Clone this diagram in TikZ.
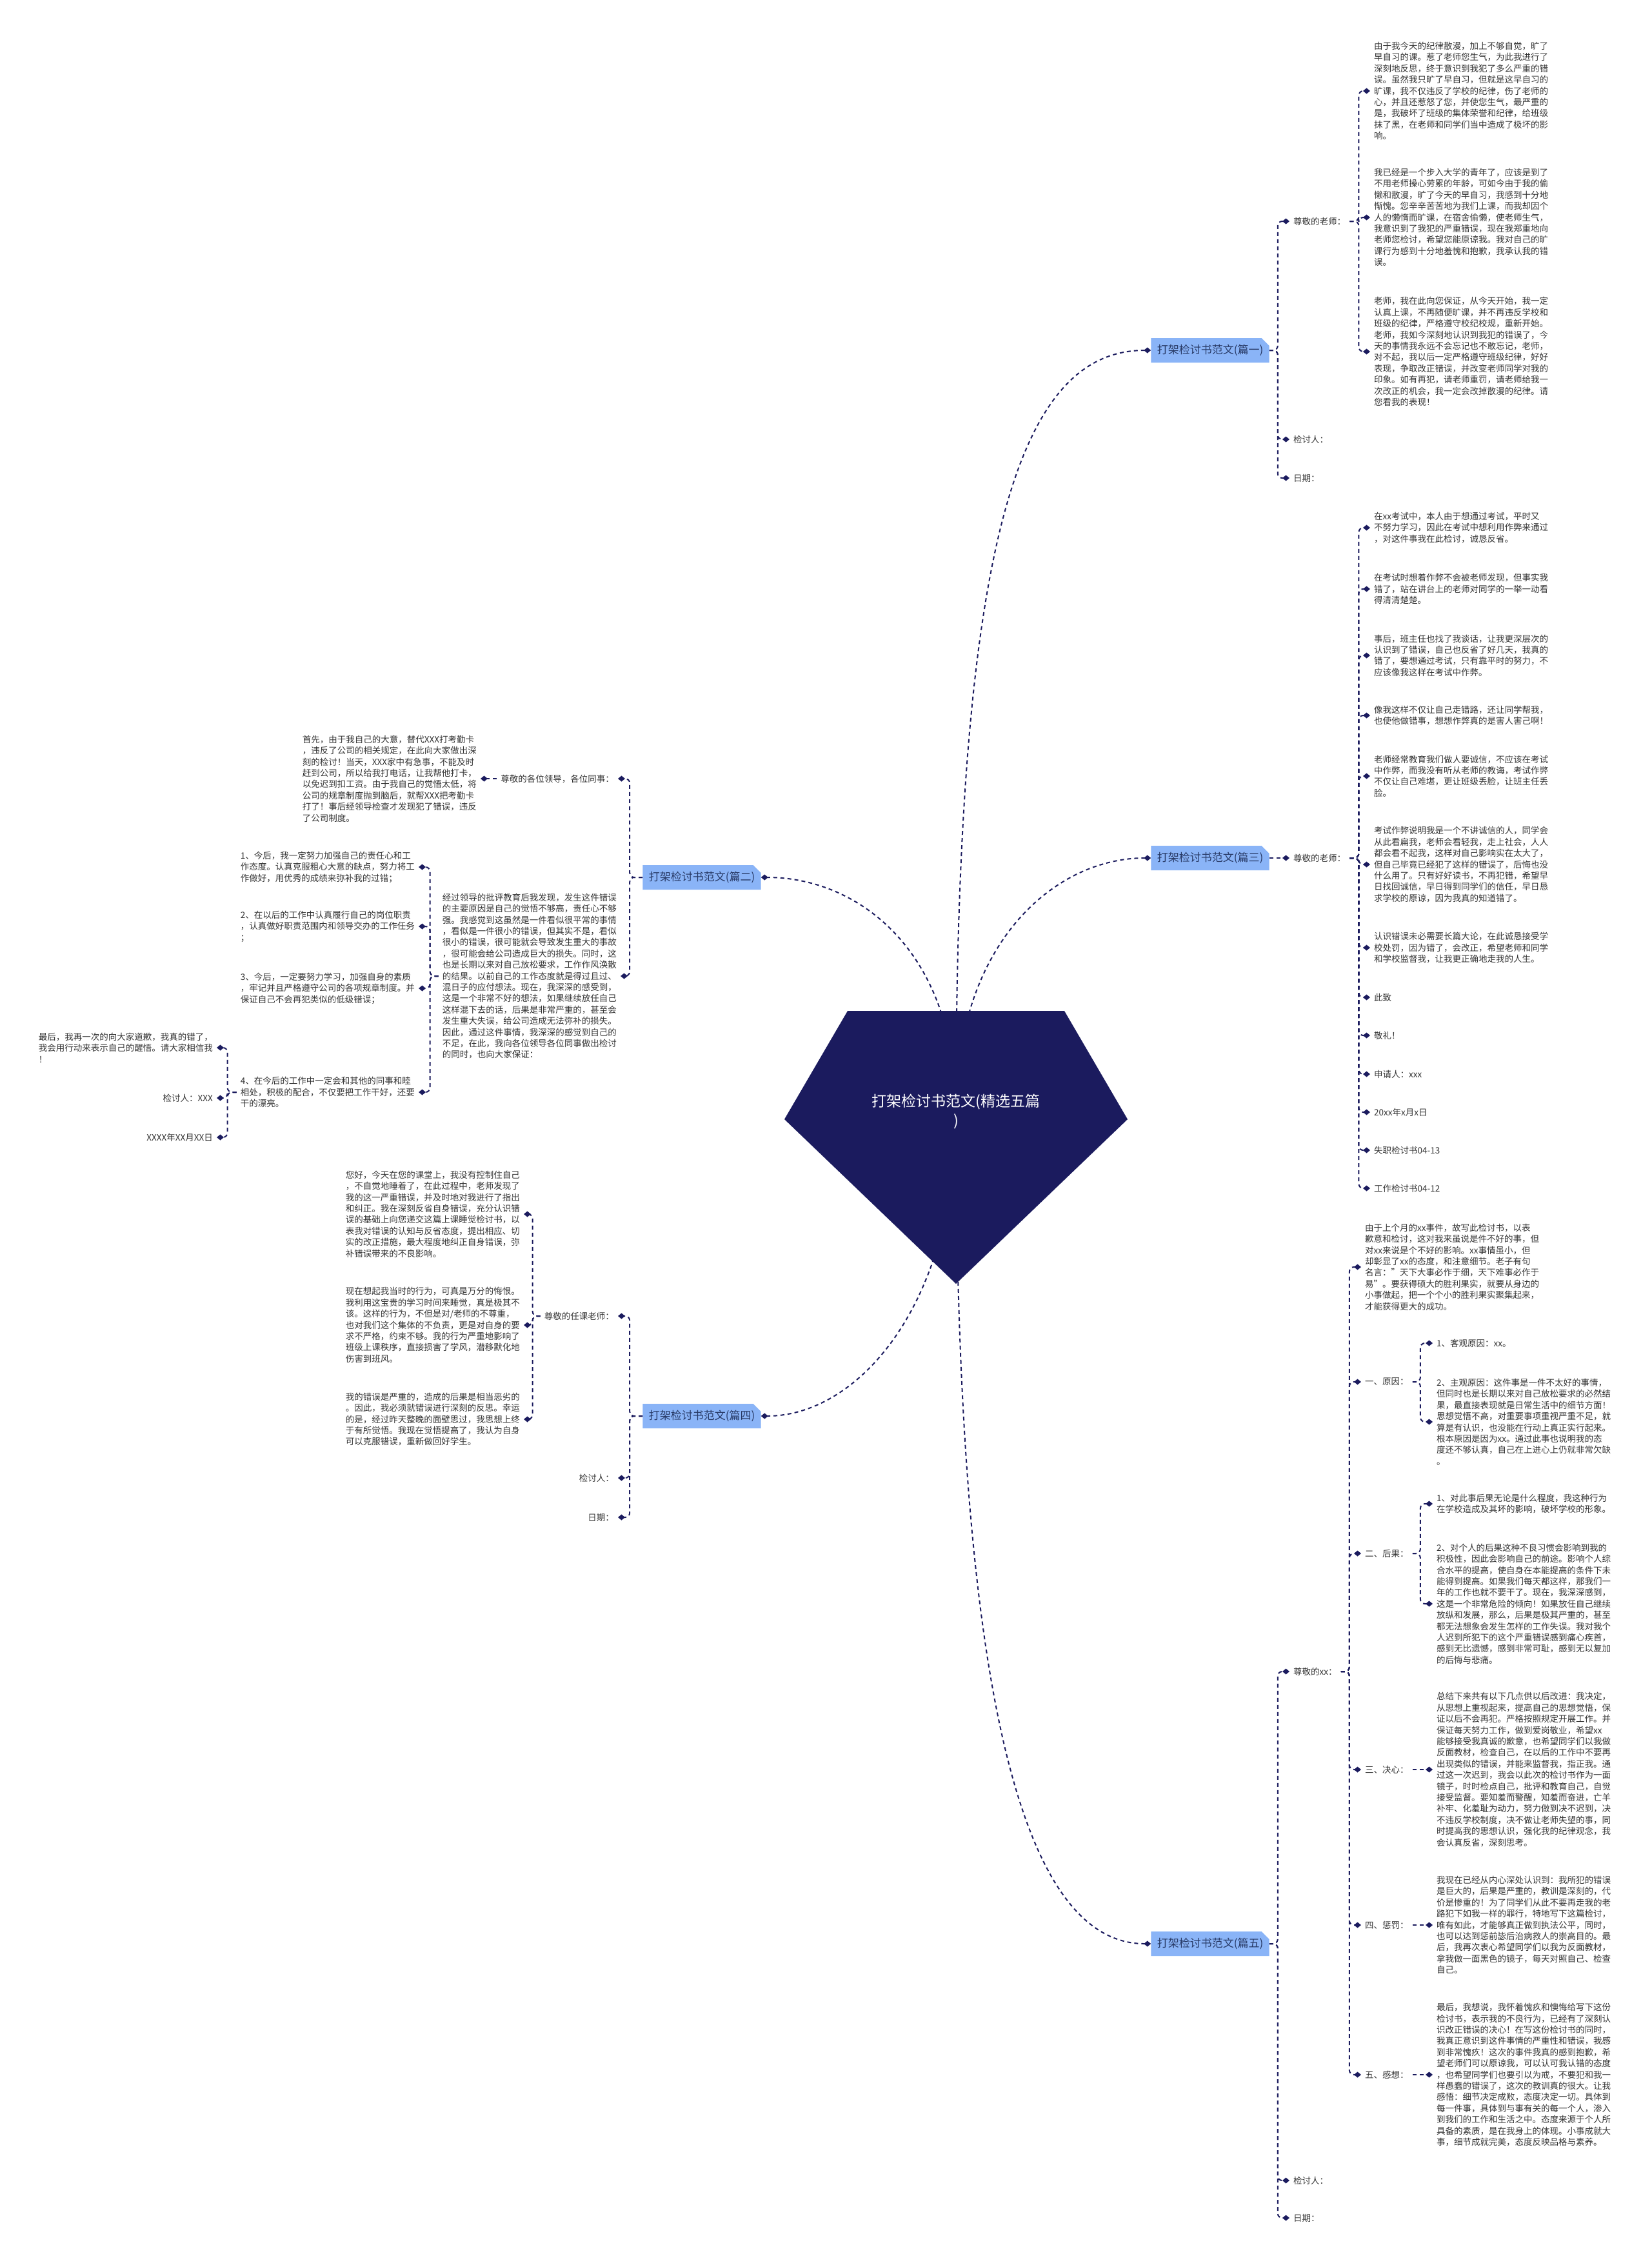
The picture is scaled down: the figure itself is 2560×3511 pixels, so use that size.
\documentclass[tikz,border=0pt]{standalone}
\usepackage{fontspec}
\setmainfont{Noto Sans CJK SC}
\usetikzlibrary{arrows.meta,positioning,shapes.misc,backgrounds}

\definecolor{navy}{HTML}{1B1B5E}
\definecolor{boxblue}{HTML}{8AB4F7}
\definecolor{boxtext}{HTML}{283A66}
\definecolor{ink}{HTML}{333333}

\begin{document}
\begin{tikzpicture}[
    x=1pt, y=-1pt,
    every node/.style={font=\fontsize{13.5}{17.4}\selectfont, text=ink},
    para/.style={align=left, inner xsep=6pt, inner ysep=2pt},
    leaf/.style={inner xsep=6pt, inner ysep=2pt},
    branch/.style={chamfered rectangle, chamfered rectangle corners=north east,
        chamfered rectangle xsep=6pt, chamfered rectangle ysep=6pt,
        fill=boxblue, minimum width=182pt, minimum height=38pt,
        font=\fontsize{17}{20}\selectfont, text=boxtext},
    rootlabel/.style={align=center, text=white, font=\fontsize{23}{30}\selectfont},
    link/.style={draw=navy, line width=2pt, dash pattern=on 6pt off 5pt,
        rounded corners=7pt, -{Diamond[length=11pt,width=9pt]}}
]
\useasboundingbox (0,0) rectangle (2560,3511);

% Root
\fill[navy] (1314,1567) -- (1650,1567) -- (1748,1735) -- (1482,1990) -- (1216,1735) -- cycle;
\node[rootlabel] (root) at (1482,1723) {打架检讨书范文(精选五篇\\)};

% Branches
\node[branch] (b1) at (1876,543) {打架检讨书范文(篇一)};
\node[branch] (b2) at (1088,1360) {打架检讨书范文(篇二)};
\node[branch] (b3) at (1876,1330) {打架检讨书范文(篇三)};
\node[branch] (b4) at (1088,2195) {打架检讨书范文(篇四)};
\node[branch] (b5) at (1876,3013) {打架检讨书范文(篇五)};

% Part one
\node[leaf, anchor=west] (r1) at (1999,343) {尊敬的老师：};
\node[leaf, anchor=west] (s1) at (1999,681) {检讨人：};
\node[leaf, anchor=west] (d1) at (1999,741) {日期：};
\node[para, anchor=west] (r1a) at (2124,141) {由于我今天的纪律散漫，加上不够自觉，旷了\\
早自习的课。惹了老师您生气，为此我进行了\\
深刻地反思，终于意识到我犯了多么严重的错\\
误。虽然我只旷了早自习，但就是这早自习的\\
旷课，我不仅违反了学校的纪律，伤了老师的\\
心，并且还惹怒了您，并使您生气，最严重的\\
是，我破坏了班级的集体荣誉和纪律，给班级\\
抹了黑，在老师和同学们当中造成了极坏的影\\
响。};
\node[para, anchor=west] (r1b) at (2124,337) {我已经是一个步入大学的青年了，应该是到了\\
不用老师操心劳累的年龄，可如今由于我的偷\\
懒和散漫，旷了今天的早自习，我感到十分地\\
惭愧。您辛辛苦苦地为我们上课，而我却因个\\
人的懒惰而旷课，在宿舍偷懒，使老师生气，\\
我意识到了我犯的严重错误，现在我郑重地向\\
老师您检讨，希望您能原谅我。我对自己的旷\\
课行为感到十分地羞愧和抱歉，我承认我的错\\
误。};
\node[para, anchor=west] (r1c) at (2124,545) {老师，我在此向您保证，从今天开始，我一定\\
认真上课，不再随便旷课，并不再违反学校和\\
班级的纪律，严格遵守校纪校规，重新开始。\\
老师，我如今深刻地认识到我犯的错误了，今\\
天的事情我永远不会忘记也不敢忘记，老师，\\
对不起，我以后一定严格遵守班级纪律，好好\\
表现，争取改正错误，并改变老师同学对我的\\
印象。如有再犯，请老师重罚，请老师给我一\\
次改正的机会，我一定会改掉散漫的纪律。请\\
您看我的表现！};

% Part three
\node[leaf, anchor=west] (r3) at (1999,1330) {尊敬的老师：};
\node[para, anchor=west] (p3a) at (2124,818) {在xx考试中，本人由于想通过考试，平时又\\
不努力学习，因此在考试中想利用作弊来通过\\
，对这件事我在此检讨，诚恳反省。};
\node[para, anchor=west] (p3b) at (2124,913) {在考试时想着作弊不会被老师发现，但事实我\\
错了，站在讲台上的老师对同学的一举一动看\\
得清清楚楚。};
\node[para, anchor=west] (p3c) at (2124,1016) {事后，班主任也找了我谈话，让我更深层次的\\
认识到了错误，自己也反省了好几天，我真的\\
错了，要想通过考试，只有靠平时的努力，不\\
应该像我这样在考试中作弊。};
\node[para, anchor=west] (p3d) at (2124,1109) {像我这样不仅让自己走错路，还让同学帮我，\\
也使他做错事，想想作弊真的是害人害己啊！};
\node[para, anchor=west] (p3e) at (2124,1203) {老师经常教育我们做人要诚信，不应该在考试\\
中作弊，而我没有听从老师的教诲，考试作弊\\
不仅让自己难堪，更让班级丢脸，让班主任丢\\
脸。};
\node[para, anchor=west] (p3f) at (2124,1340) {考试作弊说明我是一个不讲诚信的人，同学会\\
从此看扁我，老师会看轻我，走上社会，人人\\
都会看不起我，这样对自己影响实在太大了，\\
但自己毕竟已经犯了这样的错误了，后悔也没\\
什么用了。只有好好读书，不再犯错，希望早\\
日找回诚信，早日得到同学们的信任，早日恳\\
求学校的原谅，因为我真的知道错了。};
\node[para, anchor=west] (p3g) at (2124,1469) {认识错误未必需要长篇大论，在此诚恳接受学\\
校处罚，因为错了，会改正，希望老师和同学\\
和学校监督我，让我更正确地走我的人生。};
\node[leaf, anchor=west] (p3h) at (2124,1546) {此致};
\node[leaf, anchor=west] (p3i) at (2124,1605) {敬礼！};
\node[leaf, anchor=west] (p3j) at (2124,1665) {申请人：xxx};
\node[leaf, anchor=west] (p3k) at (2124,1724) {20xx年x月x日};
\node[leaf, anchor=west] (p3l) at (2124,1783) {失职检讨书04-13};
\node[leaf, anchor=west] (p3m) at (2124,1842) {工作检讨书04-12};

% Part five
\node[leaf, anchor=west] (r5) at (1999,2591) {尊敬的xx：};
\node[leaf, anchor=west] (s5) at (1999,3380) {检讨人：};
\node[leaf, anchor=west] (d5) at (1999,3438) {日期：};
\node[para, anchor=west] (r5a) at (2110,1964) {由于上个月的xx事件，故写此检讨书，以表\\
歉意和检讨，这对我来虽说是件不好的事，但\\
对xx来说是个不好的影响。xx事情虽小，但\\
却彰显了xx的态度，和注意细节。老子有句\\
名言："天下大事必作于细，天下难事必作于\\
易"。要获得硕大的胜利果实，就要从身边的\\
小事做起，把一个个小的胜利果实聚集起来，\\
才能获得更大的成功。};
\node[leaf, anchor=west] (k1) at (2110,2142) {一、原因：};
\node[leaf, anchor=west] (k2) at (2110,2408) {二、后果：};
\node[leaf, anchor=west] (k3) at (2110,2743) {三、决心：};
\node[leaf, anchor=west] (k4) at (2110,2984) {四、惩罚：};
\node[leaf, anchor=west] (k5) at (2110,3216) {五、感想：};
\node[leaf, anchor=west] (k1a) at (2221,2082) {1、客观原因：xx。};
\node[para, anchor=west] (k1b) at (2221,2204) {2、主观原因：这件事是一件不太好的事情，\\
但同时也是长期以来对自己放松要求的必然结\\
果，最直接表现就是日常生活中的细节方面！\\
思想觉悟不高，对重要事项重视严重不足，就\\
算是有认识，也没能在行动上真正实行起来。\\
根本原因是因为xx。通过此事也说明我的态\\
度还不够认真，自己在上进心上仍就非常欠缺\\
。};
\node[para, anchor=west] (k2a) at (2221,2331) {1、对此事后果无论是什么程度，我这种行为\\
在学校造成及其坏的影响，破坏学校的形象。};
\node[para, anchor=west] (k2b) at (2221,2486) {2、对个人的后果这种不良习惯会影响到我的\\
积极性，因此会影响自己的前途。影响个人综\\
合水平的提高，使自身在本能提高的条件下未\\
能得到提高。如果我们每天都这样，那我们一\\
年的工作也就不要干了。现在，我深深感到，\\
这是一个非常危险的倾向！如果放任自己继续\\
放纵和发展，那么，后果是极其严重的，甚至\\
都无法想象会发生怎样的工作失误。我对我个\\
人迟到所犯下的这个严重错误感到痛心疾首，\\
感到无比遗憾，感到非常可耻，感到无以复加\\
的后悔与悲痛。};
\node[para, anchor=west] (k3a) at (2221,2743) {总结下来共有以下几点供以后改进：我决定，\\
从思想上重视起来，提高自己的思想觉悟，保\\
证以后不会再犯。严格按照规定开展工作。并\\
保证每天努力工作，做到爱岗敬业，希望xx\\
能够接受我真诚的歉意，也希望同学们以我做\\
反面教材，检查自己，在以后的工作中不要再\\
出现类似的错误，并能来监督我，指正我。通\\
过这一次迟到，我会以此次的检讨书作为一面\\
镜子，时时检点自己，批评和教育自己，自觉\\
接受监督。要知羞而警醒，知羞而奋进，亡羊\\
补牢、化羞耻为动力，努力做到决不迟到，决\\
不违反学校制度，决不做让老师失望的事，同\\
时提高我的思想认识，强化我的纪律观念，我\\
会认真反省，深刻思考。};
\node[para, anchor=west] (k4a) at (2221,2984) {我现在已经从内心深处认识到：我所犯的错误\\
是巨大的，后果是严重的，教训是深刻的，代\\
价是惨重的！为了同学们从此不要再走我的老\\
路犯下如我一样的罪行，特地写下这篇检讨，\\
唯有如此，才能够真正做到执法公平，同时，\\
也可以达到惩前毖后治病救人的崇高目的。最\\
后，我再次衷心希望同学们以我为反面教材，\\
拿我做一面黑色的镜子，每天对照自己、检查\\
自己。};
\node[para, anchor=west] (k5a) at (2221,3216) {最后，我想说，我怀着愧疚和懊悔给写下这份\\
检讨书，表示我的不良行为，已经有了深刻认\\
识改正错误的决心！在写这份检讨书的同时，\\
我真正意识到这件事情的严重性和错误，我感\\
到非常愧疚！这次的事件我真的感到抱歉，希\\
望老师们可以原谅我，可以认可我认错的态度\\
，也希望同学们也要引以为戒，不要犯和我一\\
样愚蠢的错误了，这次的教训真的很大。让我\\
感悟：细节决定成败，态度决定一切。具体到\\
每一件事，具体到与事有关的每一个人，渗入\\
到我们的工作和生活之中。态度来源于个人所\\
具备的素质，是在我身上的体现。小事成就大\\
事，细节成就完美，态度反映品格与素养。};

% Part two
\node[leaf, anchor=east] (r2) at (958,1207) {尊敬的各位领导，各位同事：};
\node[para, anchor=east] (r2a) at (745,1207) {首先，由于我自己的大意，替代XXX打考勤卡\\
，违反了公司的相关规定，在此向大家做出深\\
刻的检讨！当天，XXX家中有急事，不能及时\\
赶到公司，所以给我打电话，让我帮他打卡，\\
以免迟到扣工资。由于我自己的觉悟太低，将\\
公司的规章制度抛到脑后，就帮XXX把考勤卡\\
打了！事后经领导检查才发现犯了错误，违反\\
了公司制度。};
\node[para, anchor=east] (g2) at (962,1513) {经过领导的批评教育后我发现，发生这件错误\\
的主要原因是自己的觉悟不够高，责任心不够\\
强。我感觉到这虽然是一件看似很平常的事情\\
，看似是一件很小的错误，但其实不是，看似\\
很小的错误，很可能就会导致发生重大的事故\\
，很可能会给公司造成巨大的损失。同时，这\\
也是长期以来对自己放松要求，工作作风涣散\\
的结果。以前自己的工作态度就是得过且过、\\
混日子的应付想法。现在，我深深的感受到，\\
这是一个非常不好的想法，如果继续放任自己\\
这样混下去的话，后果是非常严重的，甚至会\\
发生重大失误，给公司造成无法弥补的损失。\\
因此，通过这件事情，我深深的感觉到自己的\\
不足，在此，我向各位领导各位同事做出检讨\\
的同时，也向大家保证：};
\node[para, anchor=east] (i1) at (649,1344) {1、今后，我一定努力加强自己的责任心和工\\
作态度。认真克服粗心大意的缺点，努力将工\\
作做好，用优秀的成绩来弥补我的过错；};
\node[para, anchor=east] (i2) at (649,1436) {2、在以后的工作中认真履行自己的岗位职责\\
，认真做好职责范围内和领导交办的工作任务\\
；};
\node[para, anchor=east] (i3) at (649,1532) {3、今后，一定要努力学习，加强自身的素质\\
，牢记并且严格遵守公司的各项规章制度。并\\
保证自己不会再犯类似的低级错误；};
\node[para, anchor=east] (i4) at (649,1693) {4、在今后的工作中一定会和其他的同事和睦\\
相处，积极的配合，不仅要把工作干好，还要\\
干的漂亮。};
\node[para, anchor=east] (j1) at (336,1624) {最后，我再一次的向大家道歉，我真的错了，\\
我会用行动来表示自己的醒悟。请大家相信我\\
！};
\node[leaf, anchor=east] (j2) at (336,1702) {检讨人：XXX};
\node[leaf, anchor=east] (j3) at (336,1763) {XXXX年XX月XX日};

% Part four
\node[leaf, anchor=east] (r4) at (958,2040) {尊敬的任课老师：};
\node[leaf, anchor=east] (s4) at (958,2291) {检讨人：};
\node[leaf, anchor=east] (d4) at (958,2352) {日期：};
\node[para, anchor=east] (r4a) at (812,1882) {您好，今天在您的课堂上，我没有控制住自己\\
，不自觉地睡着了，在此过程中，老师发现了\\
我的这一严重错误，并及时地对我进行了指出\\
和纠正。我在深刻反省自身错误，充分认识错\\
误的基础上向您递交这篇上课睡觉检讨书，以\\
表我对错误的认知与反省态度，提出相应、切\\
实的改正措施，最大程度地纠正自身错误，弥\\
补错误带来的不良影响。};
\node[para, anchor=east] (r4b) at (812,2054) {现在想起我当时的行为，可真是万分的悔恨。\\
我利用这宝贵的学习时间来睡觉，真是极其不\\
该。这样的行为，不但是对/老师的不尊重，\\
也对我们这个集体的不负责，更是对自身的要\\
求不严格，约束不够。我的行为严重地影响了\\
班级上课秩序，直接损害了学风，潜移默化地\\
伤害到班风。};
\node[para, anchor=east] (r4c) at (812,2200) {我的错误是严重的，造成的后果是相当恶劣的\\
。因此，我必须就错误进行深刻的反思。幸运\\
的是，经过昨天整晚的面壁思过，我思想上终\\
于有所觉悟。我现在觉悟提高了，我认为自身\\
可以克服错误，重新做回好学生。};

% Root connectors
\begin{scope}[on background layer]
\draw[link] (root.center) .. controls +(0,-900) and +(-200,0) .. (b1.west);
\draw[link] (root.center) .. controls +(0,-260) and +(-150,0) .. (b3.west);
\draw[link] (root.center) .. controls +(0,900) and +(-200,0) .. (b5.west);
\draw[link] (root.center) .. controls +(0,-250) and +(150,0) .. (b2.east);
\draw[link] (root.center) .. controls +(0,300) and +(150,0) .. (b4.east);
\end{scope}

% Right side connectors
\foreach \c in {r1,s1,d1} \draw[link] (b1.east) -- ++(13,0) |- (\c.west);
\foreach \c in {r1a,r1b,r1c} \draw[link] (r1.east) -- ++(14,0) |- (\c.west);
\draw[link] (b3.east) -- (r3.west);
\foreach \c in {p3a,p3b,p3c,p3d,p3e,p3f,p3g,p3h,p3i,p3j,p3k,p3l,p3m}
    \draw[link] (r3.east) -- ++(14,0) |- (\c.west);
\foreach \c in {r5,s5,d5} \draw[link] (b5.east) -- ++(13,0) |- (\c.west);
\foreach \c in {r5a,k1,k2,k3,k4,k5} \draw[link] (r5.east) -- ++(13,0) |- (\c.west);
\foreach \c in {k1a,k1b} \draw[link] (k1.east) -- ++(12,0) |- (\c.west);
\foreach \c in {k2a,k2b} \draw[link] (k2.east) -- ++(12,0) |- (\c.west);
\draw[link] (k3.east) -- (k3a.west);
\draw[link] (k4.east) -- (k4a.west);
\draw[link] (k5.east) -- (k5a.west);

% Left side connectors
\foreach \c in {r2,g2} \draw[link] (b2.west) -- ++(-20,0) |- (\c.east);
\draw[link] (r2.west) -- (r2a.east);
\foreach \c in {i1,i2,i3,i4} \draw[link] (g2.west) -- ++(-13,0) |- (\c.east);
\foreach \c in {j1,j2,j3} \draw[link] (i4.west) -- ++(-14,0) |- (\c.east);
\foreach \c in {r4,s4,d4} \draw[link] (b4.west) -- ++(-20,0) |- (\c.east);
\foreach \c in {r4a,r4b,r4c} \draw[link] (r4.west) -- ++(-12,0) |- (\c.east);

\end{tikzpicture}
\end{document}
